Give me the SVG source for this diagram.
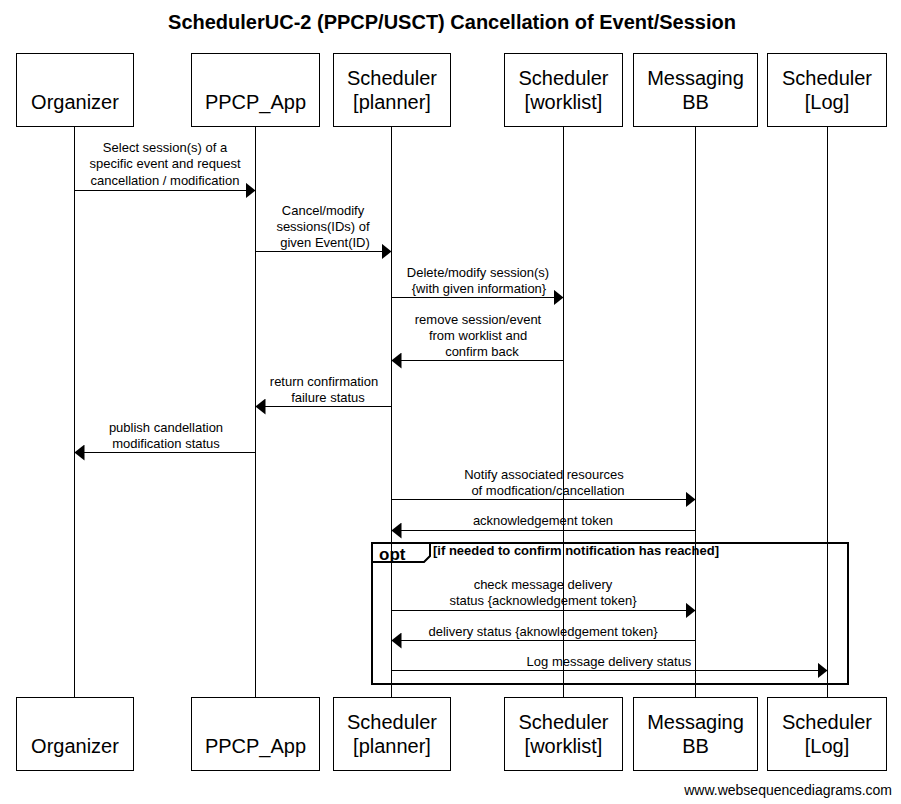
<svg xmlns="http://www.w3.org/2000/svg" width="901" height="804" viewBox="0 0 901 804">
<style>
text{font-family:"Liberation Sans",Arial,sans-serif;fill:#000}
.title{font-size:20px;font-weight:bold;text-anchor:middle}
.box{fill:#fff;stroke:#000;stroke-width:1}
.pt{font-size:20px;text-anchor:middle}
.life{stroke:#000;stroke-width:1}
.msg{stroke:#000;stroke-width:1;fill:none}
.lbl{font-size:13px;text-anchor:middle}
.frame{fill:none;stroke:#000;stroke-width:2}
.foot{font-size:14px;text-anchor:end}
</style>
<defs>
<marker id="ah" markerWidth="10" markerHeight="16" refX="10" refY="8" orient="auto" markerUnits="userSpaceOnUse">
<path d="M0,0 L10,8 L0,16 Z" fill="#000"/>
</marker>
</defs>
<rect width="901" height="804" fill="#fff"/>
<text class="title" x="452" y="29">SchedulerUC-2 (PPCP/USCT) Cancellation of Event/Session</text>

<g id="lifelines">
<line class="life" x1="74.5" y1="126" x2="74.5" y2="697"/>
<line class="life" x1="255.5" y1="126" x2="255.5" y2="697"/>
<line class="life" x1="391.5" y1="126" x2="391.5" y2="697"/>
<line class="life" x1="563.5" y1="126" x2="563.5" y2="697"/>
<line class="life" x1="695.5" y1="126" x2="695.5" y2="697"/>
<line class="life" x1="827.5" y1="126" x2="827.5" y2="697"/>
</g>

<g id="organizer">
<rect class="box" x="16.5" y="53.5" width="117" height="73"/>
<text class="pt" x="75" y="109">Organizer</text>
<rect class="box" x="16.5" y="697.5" width="117" height="73"/>
<text class="pt" x="75" y="753">Organizer</text>
</g>
<g id="ppcp_app">
<rect class="box" x="191.5" y="53.5" width="128" height="73"/>
<text class="pt" x="255.5" y="109">PPCP_App</text>
<rect class="box" x="191.5" y="697.5" width="128" height="73"/>
<text class="pt" x="255.5" y="753">PPCP_App</text>
</g>
<g id="planner">
<rect class="box" x="333.5" y="53.5" width="117" height="73"/>
<text class="pt" x="392" y="85">Scheduler</text>
<text class="pt" x="392" y="109">[planner]</text>
<rect class="box" x="333.5" y="697.5" width="117" height="73"/>
<text class="pt" x="392" y="729">Scheduler</text>
<text class="pt" x="392" y="753">[planner]</text>
</g>
<g id="worklist">
<rect class="box" x="504.5" y="53.5" width="118" height="73"/>
<text class="pt" x="563.5" y="85">Scheduler</text>
<text class="pt" x="563.5" y="109">[worklist]</text>
<rect class="box" x="504.5" y="697.5" width="118" height="73"/>
<text class="pt" x="563.5" y="729">Scheduler</text>
<text class="pt" x="563.5" y="753">[worklist]</text>
</g>
<g id="messaging">
<rect class="box" x="633.5" y="53.5" width="124" height="73"/>
<text class="pt" x="695.5" y="85">Messaging</text>
<text class="pt" x="695.5" y="109">BB</text>
<rect class="box" x="633.5" y="697.5" width="124" height="73"/>
<text class="pt" x="695.5" y="729">Messaging</text>
<text class="pt" x="695.5" y="753">BB</text>
</g>
<g id="log">
<rect class="box" x="767.5" y="53.5" width="119" height="73"/>
<text class="pt" x="827" y="85">Scheduler</text>
<text class="pt" x="827" y="109">[Log]</text>
<rect class="box" x="767.5" y="697.5" width="119" height="73"/>
<text class="pt" x="827" y="729">Scheduler</text>
<text class="pt" x="827" y="753">[Log]</text>
</g>

<g id="opt_frame">
<rect class="frame" x="372" y="543" width="476" height="141"/>
<path class="frame" d="M372,562 L424,562 L430,556 L430,543"/>
<text x="379" y="560" style="font-size:17px;font-weight:bold">opt</text>
<text x="433" y="555" style="font-size:13px;font-weight:bold">[if needed to confirm notification has reached]</text>
</g>

<g id="connectors">
<line class="msg" x1="74.5" y1="190.5" x2="255.5" y2="190.5" marker-end="url(#ah)"/>
<text class="lbl"><tspan x="165" y="152">Select session(s) of a</tspan><tspan x="165" y="168">specific event and request</tspan><tspan x="165" y="185">cancellation / modification</tspan></text>

<line class="msg" x1="255.5" y1="251.5" x2="391.5" y2="251.5" marker-end="url(#ah)"/>
<text class="lbl"><tspan x="323" y="215">Cancel/modify</tspan><tspan x="323" y="231">sessions(IDs) of</tspan><tspan x="325" y="247">given Event(ID)</tspan></text>

<line class="msg" x1="391.5" y1="297.5" x2="563.5" y2="297.5" marker-end="url(#ah)"/>
<text class="lbl"><tspan x="478" y="277">Delete/modify session(s)</tspan><tspan x="479" y="293">{with given information}</tspan></text>

<line class="msg" x1="563.5" y1="360.5" x2="391.5" y2="360.5" marker-end="url(#ah)"/>
<text class="lbl"><tspan x="478" y="324">remove session/event</tspan><tspan x="478" y="340">from worklist and</tspan><tspan x="482" y="356">confirm back</tspan></text>

<line class="msg" x1="391.5" y1="406.5" x2="255.5" y2="406.5" marker-end="url(#ah)"/>
<text class="lbl"><tspan x="324" y="386">return confirmation</tspan><tspan x="328" y="402">failure status</tspan></text>

<line class="msg" x1="255.5" y1="452.5" x2="74.5" y2="452.5" marker-end="url(#ah)"/>
<text class="lbl"><tspan x="166" y="432">publish candellation</tspan><tspan x="166" y="448">modification status</tspan></text>

<line class="msg" x1="391.5" y1="499.5" x2="695.5" y2="499.5" marker-end="url(#ah)"/>
<text class="lbl"><tspan x="544" y="479">Notify associated resources</tspan><tspan x="548" y="495">of modfication/cancellation</tspan></text>

<line class="msg" x1="695.5" y1="530.5" x2="391.5" y2="530.5" marker-end="url(#ah)"/>
<text class="lbl" x="543" y="525">acknowledgement token</text>

<line class="msg" x1="391.5" y1="610.5" x2="695.5" y2="610.5" marker-end="url(#ah)"/>
<text class="lbl"><tspan x="543" y="589">check message delivery</tspan><tspan x="543" y="605">status {acknowledgement token}</tspan></text>

<line class="msg" x1="695.5" y1="640.5" x2="391.5" y2="640.5" marker-end="url(#ah)"/>
<text class="lbl" x="543" y="636">delivery status {aknowledgement token}</text>

<line class="msg" x1="391.5" y1="670.5" x2="827.5" y2="670.5" marker-end="url(#ah)"/>
<text class="lbl" x="609" y="666">Log message delivery status</text>
</g>

<text class="foot" x="892" y="795">www.websequencediagrams.com</text>
</svg>
